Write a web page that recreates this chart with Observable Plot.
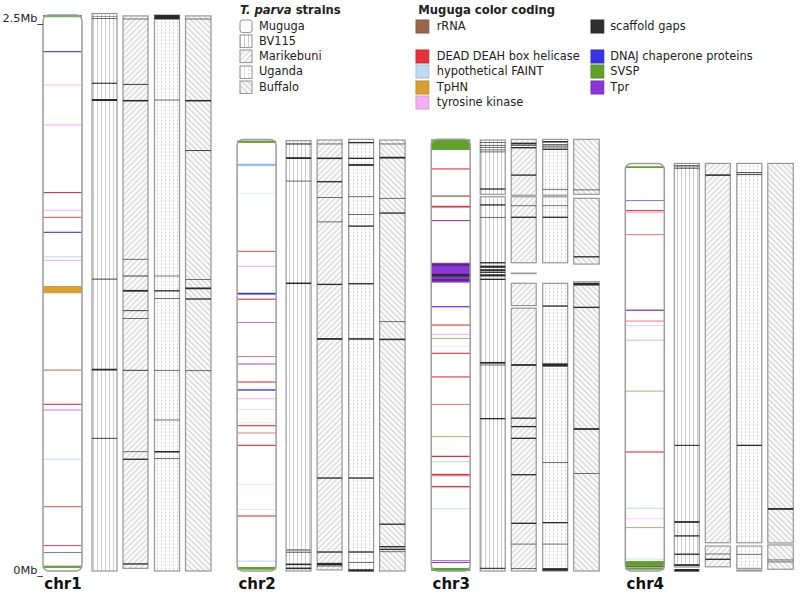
<!DOCTYPE html>
<html><head><meta charset="utf-8">
<script src="https://cdn.jsdelivr.net/npm/d3@7"></script>
<script src="https://cdn.jsdelivr.net/npm/@observablehq/plot@0.6"></script>
<style>
body{margin:0;background:#fff;font-family:"DejaVu Sans",sans-serif;}
#wrap{position:relative;width:800px;height:594px;overflow:hidden;}
#legend{position:absolute;left:0;top:0;width:800px;height:120px;font-size:11.4px;color:#222;pointer-events:none;}
#legend .t{position:absolute;font-weight:bold;font-size:11.6px;white-space:nowrap;line-height:14px;}
#legend .i{position:absolute;white-space:nowrap;line-height:14px;}
#legend svg{position:absolute;}
</style></head><body>
<svg width="0" height="0" style="position:absolute">
 <defs>
  <pattern id="pat-BV115" patternUnits="userSpaceOnUse" width="4" height="4">
   <rect width="4" height="4" fill="white"/>
   <line x1="1.5" y1="0" x2="1.5" y2="4" stroke="#cdcdcd" stroke-width="1"/>
  </pattern>
  <pattern id="pat-Marikebuni" patternUnits="userSpaceOnUse" width="4" height="4" patternTransform="rotate(45)">
   <rect width="4" height="4" fill="white"/>
   <line x1="1" y1="0" x2="1" y2="4" stroke="#c4c4c4" stroke-width="1"/>
  </pattern>
  <pattern id="pat-Uganda" patternUnits="userSpaceOnUse" width="4" height="3.5">
   <rect width="4" height="3.5" fill="white"/>
   <rect x="1" y="1" width="1" height="1.2" fill="#bdbdbd"/>
  </pattern>
  <pattern id="pat-Buffalo" patternUnits="userSpaceOnUse" width="4" height="4" patternTransform="rotate(-45)">
   <rect width="4" height="4" fill="white"/>
   <line x1="1" y1="0" x2="1" y2="4" stroke="#bdbdbd" stroke-width="1"/>
  </pattern>
 </defs>
</svg>
<div id="wrap"><div id="legend"></div></div>
<script>
// ---------------- data ----------------
const chromosomes = ["chr1", "chr2", "chr3", "chr4"];
const chromLengths = [2.518, 1.954, 1.955, 1.846]; // Mb (Muguga)
const strains = ["Muguga", "BV115", "Marikebuni", "Uganda", "Buffalo"];
const yTicks = [0, 2.5];

const featureKeys = ["rRNA", "gap", "DEAD", "FAINT", "TpHN", "TK", "DNAJ", "SVSP", "Tpr"];
const featureLabels = ["rRNA", "scaffold gaps", "DEAD DEAH box helicase", "hypothetical FAINT", "TpHN",
  "tyrosine kinase", "DNAJ chaperone proteins", "SVSP", "Tpr"];

// Muguga features: [category, position (Mb), size (kb)]
const mugugaChr1 = [
  ["SVSP", 2.514, 8], ["FAINT", 2.506, 3], ["DNAJ", 2.352, 5], ["TK", 2.201, 4], ["TK", 2.020, 5],
  ["DEAD", 1.714, 5], ["TK", 1.634, 5], ["DEAD", 1.602, 4], ["DNAJ", 1.534, 5], ["FAINT", 1.423, 5],
  ["TK", 1.407, 5], ["TpHN", 1.2745, 33], ["rRNA", 0.910, 4], ["DEAD", 0.755, 5], ["TK", 0.729, 8],
  ["FAINT", 0.506, 4], ["DEAD", 0.291, 4], ["DEAD", 0.115, 4], ["DNAJ", 0.083, 3], ["SVSP", 0.019, 10]
];
const mugugaChr2 = [
  ["SVSP", 1.944, 10], ["FAINT", 1.839, 12], ["DNAJ", 1.839, 2], ["FAINT", 1.711, 2], ["DEAD", 1.448, 4],
  ["TK", 1.380, 5], ["DNAJ", 1.256, 8], ["DEAD", 1.231, 5], ["Tpr", 1.126, 3], ["DEAD", 0.972, 3],
  ["Tpr", 0.9375, 4], ["DEAD", 0.856, 5], ["DNAJ", 0.820, 6], ["TK", 0.780, 5], ["TK", 0.732, 2],
  ["FAINT", 0.673, 2], ["DEAD", 0.658, 5], ["DEAD", 0.625, 3], ["DEAD", 0.569, 5], ["TK", 0.393, 2],
  ["TK", 0.279, 2], ["DEAD", 0.249, 5], ["FAINT", 0.045, 5], ["SVSP", 0.012, 12]
];
const mugugaChr3 = [
  ["SVSP", 1.931, 48], ["DEAD", 1.821, 5], ["rRNA", 1.698, 6], ["DEAD", 1.650, 8], ["Tpr", 1.587, 5],
  ["Tpr", 1.351, 90], ["gap", 1.386, 5], ["gap", 1.3395, 12], ["gap", 1.318, 5], ["Tpr", 1.197, 6],
  ["DEAD", 1.114, 5], ["TK", 1.072, 5], ["SVSP", 1.054, 3], ["FAINT", 1.016, 2], ["DEAD", 0.986, 5],
  ["DEAD", 0.879, 5], ["DEAD", 0.755, 3], ["SVSP", 0.608, 3], ["DEAD", 0.519, 6], ["FAINT", 0.495, 5],
  ["DEAD", 0.436, 8], ["FAINT", 0.427, 3], ["DEAD", 0.382, 6], ["FAINT", 0.282, 4], ["Tpr", 0.047, 3],
  ["Tpr", 0.039, 5], ["SVSP", 0.007, 14]
];
const mugugaChr4 = [
  ["SVSP", 1.829, 8], ["DNAJ", 1.677, 3], ["DEAD", 1.632, 5], ["TK", 1.624, 4], ["DEAD", 1.523, 3],
  ["Tpr", 1.181, 6], ["DEAD", 1.132, 3], ["TK", 1.111, 3], ["TK", 1.045, 5], ["SVSP", 0.815, 3],
  ["DEAD", 0.539, 5], ["FAINT", 0.284, 5], ["TK", 0.236, 3], ["SVSP", 0.196, 3], ["FAINT", 0.054, 4],
  ["SVSP", 0.034, 22], ["gap", 0.019, 5], ["SVSP", 0.010, 8]
];

// Strain assemblies: segments [chrom, start Mb, end Mb]; gaps/breaks [chrom, position Mb, size kb]
const bv115Segments = [["chr1", 0, 2.525], ["chr2", 0.097, 1.949], ["chr2", 0, 0.092],
  ["chr3", 0, 1.695], ["chr3", 1.706, 1.952], ["chr4", 0.018, 1.846]];
const bv115Gaps = [
  ["chr1", 2.511, 2], ["chr1", 2.502, 3], ["chr1", 2.209, 5], ["chr1", 2.133, 9], ["chr1", 1.322, 4],
  ["chr1", 0.912, 8], ["chr1", 0.601, 4],
  ["chr2", 1.934, 5], ["chr2", 1.870, 8], ["chr2", 1.766, 3], ["chr2", 1.303, 7], ["chr2", 0.085, 3],
  ["chr2", 0.030, 7], ["chr2", 0.012, 7],
  ["chr3", 1.940, 3], ["chr3", 1.928, 3], ["chr3", 1.919, 3], ["chr3", 1.907, 3], ["chr3", 1.898, 3],
  ["chr3", 1.730, 6], ["chr3", 1.658, 6], ["chr3", 1.602, 3], ["chr3", 1.396, 6], ["chr3", 1.378, 10],
  ["chr3", 1.363, 8], ["chr3", 1.353, 6], ["chr3", 1.339, 10], ["chr3", 1.321, 6], ["chr3", 0.943, 8],
  ["chr3", 0.933, 3], ["chr3", 0.690, 6], ["chr3", 0.012, 5],
  ["chr4", 1.836, 3], ["chr4", 1.830, 3], ["chr4", 1.824, 3], ["chr4", 0.569, 5], ["chr4", 0.222, 8],
  ["chr4", 0.159, 6], ["chr4", 0.076, 6], ["chr4", 0.027, 8], ["chr4", 0.003, 12]
];
const marikebuniSegments = [["chr1", 0.012, 2.514], ["chr2", 0.005, 1.952],
  ["chr3", 1.702, 1.955], ["chr3", 1.396, 1.695], ["chr3", 1.347, 1.349], ["chr3", 1.202, 1.303],
  ["chr3", 0, 1.190], ["chr4", 0.128, 1.846], ["chr4", 0.019, 0.113]];
const marikebuniGaps = [
  ["chr1", 2.500, 3], ["chr1", 2.204, 4], ["chr1", 2.130, 7], ["chr1", 1.412, 3], ["chr1", 1.336, 4],
  ["chr1", 1.269, 8], ["chr1", 1.179, 4], ["chr1", 1.144, 3], ["chr1", 0.909, 4], ["chr1", 0.540, 3],
  ["chr1", 0.506, 6], ["chr1", 0.032, 6],
  ["chr2", 1.934, 3], ["chr2", 1.869, 7], ["chr2", 1.763, 6], ["chr2", 1.692, 3], ["chr2", 1.581, 3],
  ["chr2", 1.298, 6], ["chr2", 1.051, 8], ["chr2", 0.421, 6], ["chr2", 0.086, 6], ["chr2", 0.032, 10],
  ["chr2", 0.023, 4],
  ["chr3", 1.937, 6], ["chr3", 1.929, 5], ["chr3", 1.917, 6], ["chr3", 1.793, 6], ["chr3", 1.654, 3],
  ["chr3", 1.602, 6], ["chr3", 0.933, 8], ["chr3", 0.692, 6], ["chr3", 0.654, 6], ["chr3", 0.601, 6],
  ["chr3", 0.436, 6], ["chr3", 0.216, 6], ["chr3", 0.122, 3], ["chr3", 0.012, 3],
  ["chr4", 1.793, 7], ["chr4", 0.077, 3], ["chr4", 0.053, 6]
];
const ugandaSegments = [["chr1", 0, 2.518], ["chr2", 0, 1.955],
  ["chr3", 1.702, 1.955], ["chr3", 1.396, 1.695], ["chr3", 0, 1.303],
  ["chr4", 0.128, 1.846], ["chr4", 0.012, 0.113], ["chr4", 0, 0.004]];
const ugandaGaps = [
  ["chr1", 2.508, 20], ["chr1", 2.133, 3], ["chr1", 1.336, 3], ["chr1", 1.269, 6], ["chr1", 1.235, 3],
  ["chr1", 0.909, 3], ["chr1", 0.684, 3], ["chr1", 0.540, 7], ["chr1", 0.510, 3],
  ["chr2", 1.940, 6], ["chr2", 1.869, 6], ["chr2", 1.839, 8], ["chr2", 1.695, 3], ["chr2", 1.615, 3],
  ["chr2", 1.562, 6], ["chr2", 1.301, 6], ["chr2", 1.051, 7], ["chr2", 0.421, 6], ["chr2", 0.086, 6],
  ["chr2", 0.038, 3], ["chr2", 0.003, 10],
  ["chr3", 1.944, 7], ["chr3", 1.931, 3], ["chr3", 1.925, 3], ["chr3", 1.920, 3], ["chr3", 1.910, 6],
  ["chr3", 1.729, 3], ["chr3", 1.654, 3], ["chr3", 1.602, 6], ["chr3", 1.200, 6], ["chr3", 0.933, 15],
  ["chr3", 0.492, 3], ["chr3", 0.219, 6], ["chr3", 0.122, 3], ["chr3", 0.007, 12],
  ["chr4", 1.804, 4], ["chr4", 1.795, 4], ["chr4", 0.569, 6], ["chr4", 0.076, 3]
];
const buffaloSegments = [["chr1", 0, 2.514], ["chr2", 0, 1.952],
  ["chr3", 1.706, 1.955], ["chr3", 1.390, 1.688], ["chr3", 0, 1.310],
  ["chr4", 0.127, 1.846], ["chr4", 0.008, 0.118]];
const buffaloGaps = [
  ["chr1", 2.500, 3], ["chr1", 2.130, 7], ["chr1", 1.904, 4], ["chr1", 1.321, 3], ["chr1", 1.280, 8],
  ["chr1", 1.232, 6], ["chr1", 0.907, 3],
  ["chr2", 1.934, 3], ["chr2", 1.872, 8], ["chr2", 1.688, 3], ["chr2", 1.621, 6], ["chr2", 1.129, 3],
  ["chr2", 1.049, 7], ["chr2", 0.212, 6], ["chr2", 0.110, 6], ["chr2", 0.098, 6], ["chr2", 0.087, 3],
  ["chr3", 1.726, 3], ["chr3", 1.423, 6], ["chr3", 1.299, 12], ["chr3", 1.194, 6], ["chr3", 0.643, 8],
  ["chr3", 0.442, 3],
  ["chr4", 0.281, 8], ["chr4", 0.050, 3], ["chr4", 0.041, 3]
];

// ---------------- layout & styles ----------------
const featureColors = ["#9b6549", "#2e2e2e", "#e6303a", "#bcdcf5", "#d9a030", "#f5b0f5", "#3535e6", "#5fa12a", "#8a35d9"];
const groupStep = 194.1;
const colSpan = {Muguga: [0, 39], BV115: [49, 74], Marikebuni: [80, 105], Uganda: [111.5, 136.5], Buffalo: [142.5, 168]};
const gx = c => chromosomes.indexOf(c) * groupStep;

const mugugaTables = [mugugaChr1, mugugaChr2, mugugaChr3, mugugaChr4];
const features = mugugaTables.flatMap((t, i) => t.map(([cat, pos, kb]) =>
  ({chrom: chromosomes[i], strain: "Muguga", cat, start: pos - kb / 2000, end: pos + kb / 2000})));
const ideograms = chromosomes.map((c, i) => ({chrom: c, strain: "Muguga", start: 0, end: chromLengths[i]}));
const strainTables = {
  BV115: [bv115Segments, bv115Gaps], Marikebuni: [marikebuniSegments, marikebuniGaps],
  Uganda: [ugandaSegments, ugandaGaps], Buffalo: [buffaloSegments, buffaloGaps]
};
const segments = [], gaps = [];
for (const [s, [segs, gs]] of Object.entries(strainTables)) {
  for (const [chrom, a, b] of segs) segments.push({chrom, strain: s, start: a, end: b});
  for (const [chrom, pos, kb] of gs) gaps.push({chrom, strain: s, start: pos - kb / 2000, end: pos + kb / 2000});
}
const X1 = d => gx(d.chrom) + colSpan[d.strain][0];
const X2 = d => gx(d.chrom) + colSpan[d.strain][1];

const marks = [
  Plot.rect(ideograms, {x1: X1, x2: X2, y1: "start", y2: "end", fill: "white", rx: 6}),
  Plot.rect(features, {x1: X1, x2: X2, y1: "start", y2: "end", fill: "cat"}),
  Plot.rect(ideograms, {x1: X1, x2: X2, y1: "start", y2: "end", fill: "none", stroke: "#9c9c9c", strokeWidth: 1.5, rx: 6})
];
for (const s of strains.slice(1)) {
  marks.push(Plot.rect(segments.filter(d => d.strain === s),
    {x1: X1, x2: X2, y1: "start", y2: "end", fill: `url(#pat-${s})`, stroke: "#979797", strokeWidth: 1.2}));
}
marks.push(Plot.rect(gaps, {x1: X1, x2: X2, y1: "start", y2: "end", fill: "#2a2a2a"}));
marks.push(Plot.text(chromosomes, {
  x: c => gx(c) + (colSpan.Muguga[0] + colSpan.Muguga[1]) / 2, y: () => 0, text: d => d,
  dy: 13, fontWeight: "bold", fontSize: 15, fill: "#111"
}));
marks.push(Plot.text(yTicks, {
  x: () => 0, y: d => d, text: d => `${d}Mb_`, textAnchor: "end", dx: -0.5, dy: -1.5, fontSize: 11.3, fill: "#222"
}));

const chart = Plot.plot({
  width: 800, height: 594,
  marginLeft: 43, marginRight: 0, marginTop: 19, marginBottom: 23,
  style: {fontFamily: "DejaVu Sans", background: "white", overflow: "visible"},
  x: {domain: [0, 757], axis: null},
  y: {domain: [0, 2.5], axis: null},
  color: {domain: featureKeys, range: featureColors},
  marks
});
const wrap = document.getElementById("wrap");
wrap.insertBefore(chart, wrap.firstChild);

// ---------------- legend ----------------
const legend = document.getElementById("legend");
function el(cls, left, top, html) {
  const d = document.createElement("div");
  d.className = cls; d.style.left = left + "px"; d.style.top = top + "px"; d.innerHTML = html;
  legend.appendChild(d);
}
function swatch(left, top, w, h, fill, stroke, rx) {
  const ns = "http://www.w3.org/2000/svg";
  const s = document.createElementNS(ns, "svg");
  s.setAttribute("width", w + 2); s.setAttribute("height", h + 2);
  s.style.left = (left - 1) + "px"; s.style.top = (top - 1) + "px";
  const r = document.createElementNS(ns, "rect");
  r.setAttribute("x", 1); r.setAttribute("y", 1); r.setAttribute("width", w); r.setAttribute("height", h);
  r.setAttribute("fill", fill); r.setAttribute("rx", rx || 0);
  if (stroke) { r.setAttribute("stroke", stroke); r.setAttribute("stroke-width", 1); }
  s.appendChild(r);
  legend.appendChild(s);
}
const rowH = 15.2, row0 = 26.3;
el("t", 240, 3, "<i>T. parva</i> strains");
strains.forEach((s, i) => {
  const cy = row0 + i * rowH;
  swatch(239.8, cy - 6.3, 12, 12.6, s === "Muguga" ? "white" : `url(#pat-${s})`, "#8f8f8f", s === "Muguga" ? 2.5 : 0);
  el("i", 259, cy - 7.5, s);
});
el("t", 418.3, 3, "Muguga color coding");
const legendSlots = {rRNA: [0, 0], DEAD: [0, 2], FAINT: [0, 3], TpHN: [0, 4], TK: [0, 5],
  gap: [1, 0], DNAJ: [1, 2], SVSP: [1, 3], Tpr: [1, 4]};
const colX = [[416.3, 436.7], [590.8, 610.2]];
featureKeys.forEach((k, i) => {
  const [c, r] = legendSlots[k];
  const cy = row0 + r * rowH;
  swatch(colX[c][0], cy - 6.5, 12.8, 13, featureColors[i], d3.color(featureColors[i]).darker(0.4).formatHex());
  el("i", colX[c][1], cy - 7.5, featureLabels[i]);
});
</script>
</body></html>
